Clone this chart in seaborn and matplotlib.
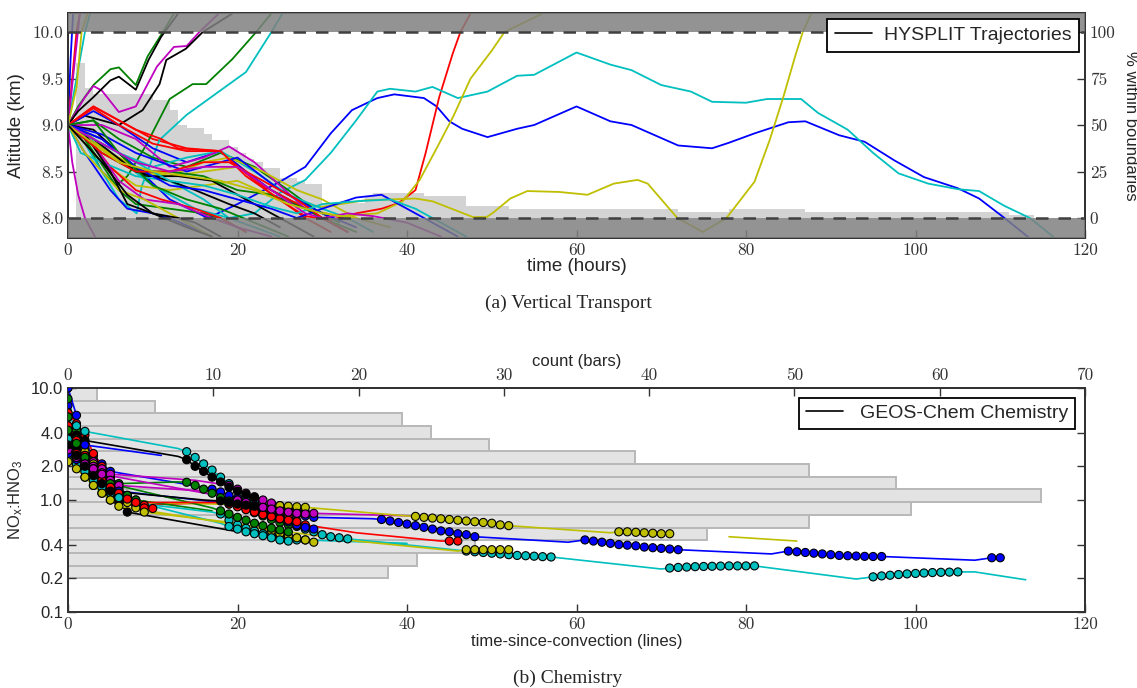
import numpy as np
import pandas as pd
import matplotlib
matplotlib.use("Agg")
import matplotlib.pyplot as plt
from matplotlib.lines import Line2D
import seaborn as sns

nan = np.nan

# ---------------- (a) HYSPLIT trajectories: hours / altitude (km) ----------------
traj_hours = [
    [0, 4, 8, 12, 16.5, 20, 25, 28, 31, 33.5, 36.5, 38.5, 42, 43.5, 45, 46.5, 49.5, 53, 55, 60, 64, 66.5, 72, 76, 78, 81, 85, 87, 91, 94, 97.5, 101, 105, 107.5, 110.5, 113.5],
    [0, 1.2, 3, 5, 6, 8, 9.4, 11.2, 12.5],
    [0, 3, 6, 10, 14, 18, 21, 24, 28, 31, 34, 37, 39, 41, 42.2, 43.8, 45.4, 46.3, 47.5],
    [0, 5, 10, 15, 19, 22, 25, 28, 31, 34, 36.5, 38, 41, 43, 46, 49.5, 53, 55, 60, 64, 66.5, 70, 73.5, 76, 80, 82.5, 86.5, 88.5, 92, 95, 98, 101.5, 105, 107.5, 110.5, 113.5, 116.5],
    [0, 2, 3, 4, 6, 8, 10.5, 12.5, 14, 15.5, 17.8],
    [0, 4, 8, 12, 16, 20, 24, 28, 32, 36.5, 39.5, 41.5, 43.5, 45.5, 47.5, 50, 51.5, 56],
    [0, 1.2, 3, 5, 6, 8, 9.5, 11, 13],
    [0, 0.3, 0.6],
    [0, 2, 4, 5.7, 7, 9.2, 12, 14.7, 16.3, 19.4, 22.2, 24],
    [0, 0.5, 1.0, 1.4],
    [0, 2, 4, 6, 8.1, 8.7, 10.8, 14, 17.5, 21, 24, 25.3],
    [0, 0.5, 1.2, 2, 3.3],
    [0, 4, 8, 12, 16, 20, 25, 30, 35, 41, 43, 47.8, 49.4, 50.2, 52.2, 54.2, 58, 61.3, 64.4, 67.2, 68.4, 71.9, 74.9, 77.7, 81, 82.8, 84.4, 85.9, 86.7, 87.7],
    [0, 2, 4, 6, 8.8, 10.8, 11.6, 13.9, 15.9, 19.4],
    [0, 3, 6, 10, 14, 18, 21, 24, 27, 30, 33],
    [0, 3, 6, 10, 14, 18, 22, 26, 29, 32],
    [0, 3, 5, 8, 11, 13, 16, 18, 19.4, 22.5, 27.3, 30, 33],
    [0, 2, 6, 10, 14, 18, 22, 26, 30, 33, 36],
    [0, 4, 8, 12, 16, 19, 22, 25, 28, 30, 33],
    [0, 2, 4, 8, 12, 16, 19, 23, 27, 30, 34],
    [0, 3, 6, 9, 13, 17, 21, 24, 26, 29],
    [0, 2, 5, 7, 10, 12, 14, 17],
    [0, 2, 6, 8, 12, 16, 18, 21],
    [0, 2, 5, 8, 11, 15, 18, 21],
    [0, 1.5, 4, 8, 12, 16, 19, 22, 25],
    [0, 3, 6, 9, 13, 17, 20, 24],
    [0, 2, 6, 9, 12, 14, 17],
    [0, 2, 5, 7, 10, 13, 15, 18],
    [0, 4, 8, 14, 20, 25, 30, 34],
    [0, 4, 8, 12, 16, 20, 24, 28, 30, 34],
    [0, 3, 6, 10, 14, 18, 21, 25, 28, 31],
    [0, 1, 2, 2.6],
    [0, 0.7, 1.4],
    [0, 1, 1.6, 2.3],
    [0, 3, 8, 12, 15, 19, 22, 25],
    [0, 4, 8, 12, 16, 20, 24, 27, 30, 34, 37, 40, 42, 46],
    [0, 3, 6, 10, 14, 18, 22, 26],
    [0, 4, 8, 12, 16, 19, 23, 27, 30, 33],
    [0, 4, 8, 12, 16, 20, 24, 27, 30, 34, 38, 41, 43, 47],
    [0, 4, 8, 12, 16, 20, 24, 28, 30, 33, 36, 40, 44],
    [0, 3, 6, 10, 14, 18, 22, 26, 30, 34, 38],
    [0, 4, 7, 10, 14, 17],
]
traj_alt = [
    [9.0, 8.85, 8.55, 8.2, 8.0, 8.15, 8.39, 8.55, 8.91, 9.16, 9.29, 9.33, 9.29, 9.2, 9.04, 8.96, 8.87, 8.96, 9.0, 9.2, 9.04, 9.0, 8.78, 8.75, 8.81, 8.91, 9.03, 9.04, 8.89, 8.82, 8.62, 8.44, 8.32, 8.21, 8.0, 7.78],
    [9.0, 9.2, 9.43, 9.6, 9.62, 9.43, 9.74, 10.0, 10.2],
    [9.0, 9.2, 9.05, 8.85, 8.75, 8.72, 8.5, 8.25, 8.02, 7.98, 8.05, 8.1, 8.16, 8.3, 8.7, 9.3, 9.77, 10.0, 10.2],
    [9.0, 8.7, 8.35, 8.1, 8.0, 8.05, 8.27, 8.41, 8.70, 9.05, 9.36, 9.39, 9.36, 9.41, 9.29, 9.36, 9.53, 9.54, 9.78, 9.65, 9.59, 9.43, 9.36, 9.25, 9.24, 9.28, 9.28, 9.13, 8.95, 8.70, 8.48, 8.37, 8.31, 8.29, 8.13, 8.0, 7.78],
    [9.0, 9.3, 9.42, 9.37, 9.14, 9.2, 9.63, 9.84, 9.85, 10.0, 10.2],
    [9.0, 8.75, 8.5, 8.45, 8.5, 8.55, 8.3, 8.1, 8.02, 8.05, 8.18, 8.41, 8.75, 9.1, 9.5, 9.8, 10.0, 10.2],
    [9.0, 9.15, 9.3, 9.48, 9.52, 9.38, 9.7, 9.95, 10.2],
    [9.0, 9.7, 10.2],
    [9.0, 8.85, 8.5, 8.35, 8.45, 8.78, 9.28, 9.44, 9.44, 9.71, 10.0, 10.2],
    [9.0, 9.5, 10.0, 10.2],
    [9.0, 8.8, 8.5, 8.2, 8.05, 8.34, 8.84, 9.11, 9.34, 9.57, 10.0, 10.2],
    [9.0, 8.6, 8.25, 8.0, 7.78],
    [9.0, 8.6, 8.35, 8.3, 8.35, 8.4, 8.2, 8.12, 8.19, 8.21, 8.18, 8.01, 8.01, 8.06, 8.21, 8.29, 8.28, 8.25, 8.37, 8.41, 8.37, 8.0, 7.85, 8.0, 8.39, 8.84, 9.30, 9.77, 10.0, 10.2],
    [9.0, 9.1, 9.05, 9.0, 9.16, 9.44, 9.7, 9.82, 10.0, 10.2],
    [9.0, 9.15, 9.0, 8.75, 8.6, 8.72, 8.5, 8.3, 8.15, 8.0, 7.85],
    [9.0, 9.05, 8.85, 8.65, 8.55, 8.7, 8.55, 8.3, 8.1, 7.95],
    [9.0, 9.2, 9.1, 8.95, 8.85, 8.75, 8.73, 8.72, 8.6, 8.37, 8.14, 8.0, 7.85],
    [9.0, 8.9, 8.7, 8.55, 8.65, 8.72, 8.5, 8.25, 8.1, 8.0, 7.85],
    [9.0, 9.0, 8.85, 8.55, 8.65, 8.77, 8.6, 8.35, 8.1, 8.0, 7.85],
    [9.0, 8.95, 8.75, 8.55, 8.45, 8.6, 8.65, 8.5, 8.3, 8.2, 8.0],
    [9.0, 8.95, 8.7, 8.45, 8.45, 8.4, 8.2, 8.05, 7.95, 7.8],
    [9.0, 8.7, 8.3, 8.1, 8.05, 8.0, 7.92, 7.8],
    [9.0, 8.85, 8.3, 8.15, 8.1, 8.05, 8.0, 7.85],
    [9.0, 8.9, 8.55, 8.3, 8.2, 8.1, 8.0, 7.85],
    [9.0, 8.7, 8.6, 8.45, 8.4, 8.2, 8.0, 7.9, 7.8],
    [9.0, 8.8, 8.4, 8.2, 8.15, 8.0, 7.9, 7.8],
    [9.0, 8.7, 8.3, 8.2, 8.05, 7.95, 7.8],
    [9.0, 8.9, 8.5, 8.15, 8.05, 8.0, 7.95, 7.8],
    [9.0, 8.9, 8.7, 8.5, 8.65, 8.3, 8.05, 7.9],
    [9.0, 8.7, 8.5, 8.5, 8.45, 8.3, 8.25, 8.1, 8.0, 7.85],
    [9.0, 9.18, 9.0, 8.8, 8.72, 8.72, 8.45, 8.2, 8.0, 7.85],
    [9.0, 9.5, 10.0, 10.2],
    [9.0, 9.6, 10.2],
    [9.0, 9.4, 10.0, 10.2],
    [9.0, 8.85, 8.5, 8.4, 8.3, 8.15, 8.05, 7.9],
    [9.0, 8.85, 8.55, 8.35, 8.3, 8.2, 8.1, 8.0, 8.1, 8.22, 8.25, 8.1, 8.0, 7.8],
    [9.0, 9.05, 8.7, 8.35, 8.2, 8.1, 7.95, 7.8],
    [9.0, 8.7, 8.5, 8.5, 8.6, 8.6, 8.4, 8.2, 8.0, 7.85],
    [9.0, 8.8, 8.6, 8.4, 8.35, 8.25, 8.12, 8.05, 8.15, 8.18, 8.2, 8.1, 8.0, 7.8],
    [9.0, 8.8, 8.6, 8.5, 8.55, 8.55, 8.3, 8.05, 8.0, 8.05, 8.02, 7.95, 7.8],
    [9.0, 8.8, 8.6, 8.5, 8.45, 8.4, 8.3, 8.15, 8.05, 8.0, 7.9],
    [9.0, 8.6, 8.25, 8.05, 7.9, 7.8],
]

# % of trajectories within the 8-10 km layer (bars)
pct_edges = [1, 2, 3, 10, 12, 13, 14, 16, 17, 19, 20, 21, 22, 23, 25, 27, 28, 30, 35, 36, 42, 47, 52, 72, 78, 87, 111, 114]
pct_vals = [83.3, 70, 66.7, 63.3, 58.3, 50, 48.3, 45, 41.7, 38.3, 35, 31.7, 30, 26.7, 21.7, 20, 18.3, 8.3, 11.7, 13.3, 11.7, 6.7, 5, 3.3, 5, 3.3, 1.7]

# ---------------- (b) GEOS-Chem NOx:HNO3 ----------------
chem_hours = [
    [0, 1, 2, 3, 4, 5, 16, 17, 18, 19, 20, 21, 22, 23, 24, 25, 26, 27, 28, 29, 36, 37, 38, 39, 40, 41, 42, 43, 44, 45, 46, 47, 48, 59, 61, 62, 63, 64, 65, 66, 67, 68, 69, 70, 71, 72, 83, 85, 86, 87, 88, 89, 90, 91, 92, 93, 94, 95, 96, 107, 109, 110],
    [0, 1, 2, 3, 4, 5, 6, 13, 14, 15, 16, 17, 18, 19, 20, 21, 22, 23, 24, 25, 26, 27, 28],
    [0, 1, 2, 3, 4, 5, 6, 7, 8, 9, 20, 21, 22, 23, 24, 25, 26, 27, 28, 34, 44, 45, 46],
    [0, 1, 2, 13, 14, 15, 16, 17, 18, 19, 20, 21, 22, 23, 24, 25, 26, 27, 28, 29, 30, 31, 32, 33, 41, 47, 48, 49, 50, 51, 52, 53, 54, 55, 56, 57, 70, 71, 72, 73, 74, 75, 76, 77, 78, 79, 80, 81, 93, 95, 96, 97, 98, 99, 100, 101, 102, 103, 104, 105, 107, 113],
    [0, 1, 2, 3, 4, 5, 15, 19, 20, 21, 22, 23, 24, 25, 26, 27, 28, 29, 41],
    [0, 1, 2, 3, 4, 5, 6, 7, 8, 24, 25, 26, 27, 28, 40, 41, 42, 43, 44, 45, 46, 47, 48, 49, 50, 51, 52, 64, 65, 66, 67, 68, 69, 70, 71, 74, 78, 86],
    [0, 1, 2, 13, 14, 15, 16, 17, 18, 19, 20, 21, 22],
    [0, 1, 2, 11],
    [0, 1, 2, 3, 4, 5, 6, 7, 8, 17],
    [0, 1, 2, 3, 4, 5, 6, 7, 8, 9, 10],
    [0, 1, 2, 3, 4, 5, 17, 18, 19, 20, 21, 22, 23, 24, 25, 26, 27, 28, 40],
    [0, 1, 2, 3, 4, 5, 6, 16],
    [0, 1, 2, 3, 4, 5, 6, 7, 8, 9, 20, 23, 24, 25, 26, 27, 28, 29],
    [0, 1, 2, 3, 4, 5, 6, 7, 19.5, 20],
    [0, 1, 2, 3, 4, 5, 6, 18, 19, 20, 21, 22, 23, 24, 25, 26, 27, 28, 29],
    [0, 1, 2, 3, 4, 5, 17, 18, 19, 20, 21, 22, 23, 24, 25, 26],
    [0, 1, 2, 3, 4, 5, 6, 7, 8, 18, 19, 20, 21, 22, 23, 24, 25, 26, 27],
    [0, 1, 2, 3, 4, 5, 6, 18, 19, 20, 21, 22, 23, 24, 25, 26],
    [0, 1, 2, 3, 4, 19, 20, 21, 22, 23, 24, 25, 26, 27, 28],
    [0, 1, 2, 3, 4, 5, 6, 20, 34, 46, 47, 48, 49, 50, 51, 52],
    [0, 1, 2, 3, 4, 5, 16, 18, 19, 20, 21, 22],
]
chem_ratio = [
    [7.0, 4.4, 3.2, 2.5, 2.1, 1.8, 1.3, 1.25, 1.18, 1.1, 1.04, 0.98, 0.93, 0.88, 0.84, 0.80, 0.77, 0.74, 0.72, 0.70, 0.68, 0.67, 0.65, 0.63, 0.61, 0.59, 0.57, 0.55, 0.53, 0.52, 0.50, 0.49, 0.47, 0.42, 0.44, 0.43, 0.42, 0.41, 0.40, 0.395, 0.39, 0.38, 0.375, 0.37, 0.365, 0.36, 0.33, 0.35, 0.345, 0.34, 0.335, 0.33, 0.325, 0.32, 0.318, 0.316, 0.314, 0.313, 0.313, 0.29, 0.305, 0.305],
    [8.0, 4.2, 2.9, 2.3, 1.9, 1.6, 1.4, 1.45, 1.44, 1.35, 1.25, 1.15, 1.05, 0.98, 0.9, 0.83, 0.77, 0.72, 0.67, 0.63, 0.6, 0.58, 0.56],
    [6.0, 4.8, 3.8, 2.6, 2.0, 1.6, 1.3, 1.1, 1.0, 0.9, 0.97, 0.95, 0.9, 0.85, 0.8, 0.75, 0.7, 0.65, 0.6, 0.51, 0.43, 0.43, 0.43],
    [5.5, 4.6, 4.1, 2.88, 2.7, 2.4, 2.1, 1.85, 1.6, 1.4, 1.22, 1.08, 0.96, 0.86, 0.77, 0.7, 0.64, 0.59, 0.55, 0.52, 0.49, 0.47, 0.46, 0.45, 0.39, 0.35, 0.345, 0.34, 0.335, 0.33, 0.325, 0.32, 0.318, 0.315, 0.312, 0.31, 0.242, 0.247, 0.25, 0.252, 0.254, 0.255, 0.256, 0.257, 0.258, 0.258, 0.258, 0.258, 0.197, 0.206, 0.21, 0.213, 0.216, 0.219, 0.221, 0.223, 0.225, 0.226, 0.227, 0.228, 0.228, 0.194],
    [3.0, 2.9, 2.6, 2.2, 1.9, 1.7, 1.5, 1.35, 1.25, 1.15, 1.07, 1.0, 0.94, 0.89, 0.85, 0.81, 0.78, 0.76, 0.72],
    [4.5, 3.6, 2.7, 2.1, 1.7, 1.4, 1.2, 1.05, 0.95, 0.9, 0.89, 0.88, 0.87, 0.86, 0.72, 0.714, 0.70, 0.69, 0.68, 0.67, 0.66, 0.65, 0.64, 0.63, 0.62, 0.60, 0.59, 0.51, 0.52, 0.52, 0.515, 0.51, 0.505, 0.50, 0.50, nan, 0.47, 0.43],
    [4.5, 3.8, 3.4, 2.45, 2.29, 2.0, 1.8, 1.6, 1.45, 1.3, 1.2, 1.12, 1.05],
    [10.0, 5.7, 3.1, 2.5],
    [5.5, 3.5, 2.5, 2.0, 1.7, 1.45, 1.25, 1.1, 1.0, 0.8],
    [4.6, 3.4, 2.5, 1.95, 1.6, 1.35, 1.15, 1.0, 0.9, 0.85, 0.84],
    [2.5, 2.1, 1.6, 1.35, 1.15, 1.0, 0.78, 0.75, 0.66, 0.6, 0.56, 0.53, 0.5, 0.48, 0.46, 0.45, 0.44, 0.44, 0.41],
    [3.3, 2.7, 2.3, 2.0, 1.75, 1.5, 1.35, 1.2],
    [3.6, 3.0, 2.3, 1.9, 1.6, 1.3, 1.1, 0.95, 0.85, 0.78, 0.62, 0.55, 0.53, 0.5, 0.48, 0.46, 0.44, 0.42],
    [3.8, 3.0, 2.2, 1.7, 1.4, 1.15, 0.95, 0.78, 0.53, 0.54],
    [2.6, 2.3, 2.0, 1.7, 1.5, 1.35, 1.2, 0.95, 0.92, 0.88, 0.85, 0.8, 0.76, 0.72, 0.68, 0.64, 0.6, 0.57, 0.55],
    [4.2, 3.2, 2.4, 1.9, 1.6, 1.4, 0.85, 0.8, 0.75, 0.7, 0.66, 0.62, 0.59, 0.56, 0.54, 0.52],
    [3.3, 2.6, 2.1, 1.75, 1.5, 1.3, 1.15, 1.02, 0.95, 0.95, 0.92, 0.87, 0.82, 0.78, 0.74, 0.71, 0.68, 0.66, 0.64],
    [3.5, 2.4, 1.8, 1.5, 1.3, 1.15, 1.05, 0.62, 0.58, 0.55, 0.52, 0.5, 0.48, 0.46, 0.44, 0.43],
    [2.8, 2.4, 2.1, 1.9, 1.7, 1.05, 1.0, 0.95, 0.9, 0.86, 0.83, 0.8, 0.78, 0.76, 0.75],
    [2.2, 1.9, 1.6, 1.35, 1.15, 1.0, 0.88, 0.6, 0.43, 0.35, 0.36, 0.36, 0.36, 0.36, 0.36, 0.36],
    [3.1, 2.5, 2.0, 1.65, 1.4, 1.2, 1.0, 0.98, 0.95, 0.92, 0.9, 0.88],
]
# hours (inclusive windows) flagged with markers
chem_marked = [
    [(0, 5), (17, 29), (37, 48), (61, 72), (85, 96), (109, 110)],
    [(0, 6), (14, 28)],
    [(0, 9), (21, 28), (45, 46)],
    [(0, 2), (14, 33), (47, 57), (71, 81), (95, 105)],
    [(0, 5), (19, 29)],
    [(0, 8), (25, 28), (41, 52), (65, 71)],
    [(0, 2), (14, 22)],
    [(0, 2)],
    [(0, 8)],
    [(0, 10)],
    [(0, 5), (18, 28)],
    [(0, 6)],
    [(0, 9), (24, 29)],
    [(0, 7)],
    [(0, 6), (19, 29)],
    [(0, 5), (18, 26)],
    [(0, 8), (19, 27)],
    [(0, 6), (19, 26)],
    [(0, 4), (20, 28)],
    [(0, 6), (47, 52)],
    [(0, 5), (18, 22)],
]

# histogram of NOx:HNO3 (counts, bottom bin to top bin)
ratio_counts = [22, 24, 28, 44, 51, 58, 67, 57, 51, 39, 29, 25, 23, 6, 2]

# ---------------- style ----------------
sns.set_style("ticks")
plt.rcParams["font.family"] = ["Liberation Sans", "DejaVu Sans"]
plt.rcParams["mathtext.default"] = "regular"
plt.rcParams["axes.linewidth"] = 1.4
plt.rcParams["axes.edgecolor"] = "0.2"

cycle = [(0, 0, 1), (0, 0.5, 0), (1, 0, 0), (0, 0.75, 0.75),
         (0.75, 0, 0.75), (0.75, 0.75, 0), (0, 0, 0)]
serif_tick = "cmr10"

fig = plt.figure(figsize=(11.37, 6.88), dpi=100)
W, H = 1137, 688
ax = fig.add_axes([68 / W, 1 - 238 / H, (1085 - 68) / W, (238 - 13) / H])
twin = ax.twinx()

# bars of % within boundaries (behind lines)
widths = np.diff(pct_edges)
twin.bar(pct_edges[:-1], pct_vals, width=widths, align="edge",
         color="#d3d3d3", linewidth=0)

rows = []
for i, (hs, al) in enumerate(zip(traj_hours, traj_alt)):
    for h, a in zip(hs, al):
        rows.append((f"T{i:02d}", h, a))
df_top = pd.DataFrame(rows, columns=["traj", "hour", "alt"])
pal_top = {f"T{i:02d}": cycle[i % 7] for i in range(len(traj_hours))}
sns.lineplot(data=df_top, x="hour", y="alt", hue="traj", units="traj",
             estimator=None, sort=False, palette=pal_top, legend=False,
             linewidth=1.3, ax=ax)

ax.axhspan(10.0, 10.5, color="0.5", alpha=0.85, lw=0, zorder=4)
ax.axhspan(7.5, 8.0, color="0.5", alpha=0.85, lw=0, zorder=4)
for yb in (8.0, 10.0):
    ax.axhline(yb, color="0.25", ls=(0, (5, 4)), lw=1.8, zorder=5)

ax.set_xlim(0, 120)
ax.set_ylim(7.785, 10.205)
twin.set_ylim((7.785 - 8) * 50, (10.205 - 8) * 50)
ax.set_zorder(twin.get_zorder() + 1)
ax.patch.set_visible(False)

ax.set_yticks([8.0, 8.5, 9.0, 9.5, 10.0])
ax.set_yticklabels(["8.0", "8.5", "9.0", "9.5", "10.0"])
ax.set_xticks([0, 20, 40, 60, 80, 100, 120])
twin.set_yticks([0, 25, 50, 75, 100])
for a in (ax, twin):
    a.tick_params(direction="in", length=6, width=1, labelsize=12.5,
                  labelfontfamily=serif_tick, colors="0.2", labelcolor="0.2")
ax.set_xlabel("time (hours)", fontsize=13.5, labelpad=0)
ax.set_ylabel("Altitude (km)", fontsize=13.5, labelpad=5)
twin.set_ylabel("% within boundaries", fontsize=12, rotation=270, labelpad=16)

leg = ax.legend(handles=[Line2D([], [], color="k", lw=1.2)],
                labels=["HYSPLIT Trajectories"], loc="upper right",
                fancybox=False, framealpha=1, edgecolor="k", fontsize=14,
                handlelength=1.9, handletextpad=0.6, borderaxespad=0.3,
                borderpad=0.4)
leg.get_frame().set_linewidth(1.3)
leg.set_zorder(10)

fig.text(0.4996, 1 - 303 / H, "(a) Vertical Transport", ha="center", va="center",
         family="Liberation Serif", fontsize=14)

# ---------------- (b) ----------------
bx = fig.add_axes([68 / W, 1 - 612 / H, (1085 - 68) / W, (612 - 388) / H])
bx.set_yscale("log")
btw = bx.twiny()

bin_edges = np.logspace(np.log10(0.2), 1.0, len(ratio_counts) + 1)
btw.barh(bin_edges[:-1], ratio_counts, height=np.diff(bin_edges), align="edge",
         color="0.89", edgecolor="0.72", linewidth=1.4)

line_rows, mark_rows = [], []
for i, (hs, vs, win) in enumerate(zip(chem_hours, chem_ratio, chem_marked)):
    seg = 0
    for h, v in zip(hs, vs):
        if np.isnan(v):
            seg += 1
            continue
        line_rows.append((f"C{i:02d}", f"C{i:02d}_{seg}", h, v))
        if any(lo <= h <= hi for lo, hi in win):
            mark_rows.append((f"C{i:02d}", h, v))
df_line = pd.DataFrame(line_rows, columns=["traj", "seg", "hour", "ratio"])
df_mark = pd.DataFrame(mark_rows, columns=["traj", "hour", "ratio"])
pal_chem = {f"C{i:02d}": cycle[i % 7] for i in range(len(chem_hours))}
sns.lineplot(data=df_line, x="hour", y="ratio", hue="traj", units="seg",
             estimator=None, sort=False, palette=pal_chem, legend=False,
             linewidth=1.2, ax=bx)
sns.scatterplot(data=df_mark, x="hour", y="ratio", hue="traj", palette=pal_chem,
                s=34, edgecolor="k", linewidth=0.8, legend=False, zorder=3, ax=bx)

bx.set_xlim(0, 120)
bx.set_ylim(0.1, 10)
btw.set_xlim(0, 70)
bx.set_zorder(btw.get_zorder() + 1)
bx.patch.set_visible(False)

yt = [0.1, 0.2, 0.4, 1.0, 2.0, 4.0, 10.0]
bx.set_yticks(yt)
bx.set_yticklabels(["0.1", "0.2", "0.4", "1.0", "2.0", "4.0", "10.0"])
bx.yaxis.set_minor_locator(matplotlib.ticker.NullLocator())
bx.set_xticks([0, 20, 40, 60, 80, 100, 120])
btw.set_xticks([0, 10, 20, 30, 40, 50, 60, 70])
bx.tick_params(axis="x", direction="in", length=6, width=1, labelsize=12.5,
               labelfontfamily=serif_tick, colors="0.2", labelcolor="0.2")
btw.tick_params(axis="x", direction="in", length=6, width=1, labelsize=12.5,
                labelfontfamily=serif_tick, colors="0.2", labelcolor="0.2")
bx.tick_params(axis="y", which="both", direction="in", length=6, width=1,
               labelsize=12, right=True, colors="0.2", labelcolor="0.15")
bx.set_xlabel("time-since-convection (lines)", fontsize=12, labelpad=1)
btw.set_xlabel("count (bars)", fontsize=12, labelpad=1)
bx.set_ylabel("NO$_x$:HNO$_3$", fontsize=12, labelpad=4)

leg2 = bx.legend(handles=[Line2D([], [], color="k", lw=1.2)],
                 labels=["GEOS-Chem Chemistry"], loc="upper right",
                 fancybox=False, framealpha=1, edgecolor="k", fontsize=14,
                 handlelength=1.9, handletextpad=0.9, borderaxespad=0.5,
                 borderpad=0.35)
leg2.get_frame().set_linewidth(1.3)

fig.text(0.4996, 1 - 678 / H, "(b) Chemistry", ha="center", va="center",
         family="Liberation Serif", fontsize=14)

fig.savefig("out.png", dpi=100)
